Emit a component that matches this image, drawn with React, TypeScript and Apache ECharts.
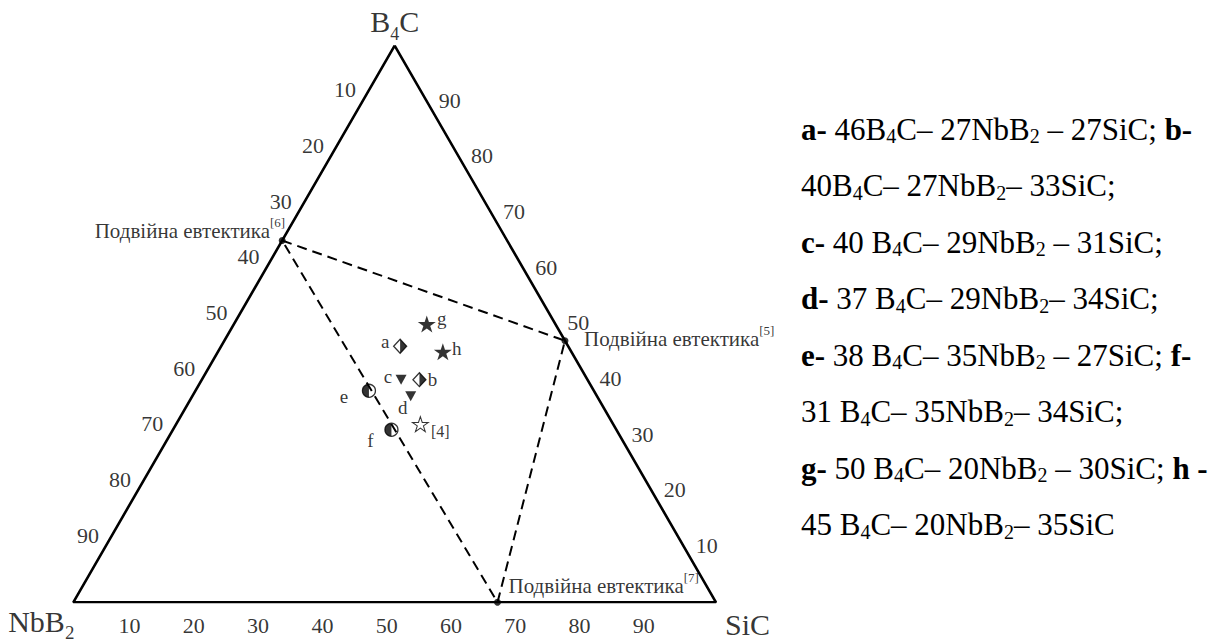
import React, { useEffect, useRef } from "react";
import * as echarts from "echarts";

const FONT = "Liberation Serif";

// Vertices of the ternary diagram (B4C, NbB2, SiC, mol %)
const vertexNames = ["B4C", "NbB2", "SiC"];
const vertexB4C = [100, 0, 0];
const vertexNbB2 = [0, 100, 0];
const vertexSiC = [0, 0, 100];

// Tick labels along the three edges
const tickValues = [10, 20, 30, 40, 50, 60, 70, 80, 90];

// Studied compositions
const sampleNames = ["a", "b", "c", "d", "e", "f", "g", "h"];
const sampleB4C = [46, 40, 40, 37, 38, 31, 50, 45];
const sampleNbB2 = [27, 27, 29, 29, 35, 35, 20, 20];
const sampleSiC = [27, 33, 31, 34, 27, 34, 30, 35];

// Literature composition [4]
const litNames = ["[4]"];
const litB4C = [32];
const litNbB2 = [30];
const litSiC = [38];

// Binary eutectics
const eutecticRefs = ["[6]", "[5]", "[7]"];
const eutecticB4C = [65, 47, 0];
const eutecticNbB2 = [35, 0, 34];
const eutecticSiC = [0, 53, 66];
const eutecticText = "Подвійна евтектика";

// ---- styling (kept apart from data) ----
const STAR =
  "path://M0,-1L0.2245,-0.309L0.951,-0.309L0.363,0.118L0.588,0.809L0,0.382L-0.588,0.809L-0.363,0.118L-0.951,-0.309L-0.2245,-0.309Z";
const HALF_DIAMOND_RIGHT = "path://M0,0L1,1L0,2Z";
const HALF_DISC_LEFT = "path://M1,0C0.448,0 0,0.448 0,1C0,1.552 0.448,2 1,2Z";
const DOWN_TRIANGLE = "path://M-1,-1L1,-1L0,1Z";

const sampleKind: Record<string, string> = {
  a: "diamond", b: "diamond", c: "triangle", d: "triangle",
  e: "circle", f: "circle", g: "star", h: "star",
};
const sampleLabelOffset: Record<string, number[]> = {
  a: [-15, -5], b: [13, 0], c: [-13, -3], d: [-8, 11],
  e: [-25, 6], f: [-21, 11], g: [15, -6], h: [14, -3.5],
};
const litLabelOffset = [[20, 7.5]];
const eutecticLabelPos = [
  { align: "right", offset: [3, -9.8] },
  { align: "left", offset: [19, -2.1] },
  { align: "left", offset: [11, -16.1] },
];

function toXY(b4c: number, nbb2: number, sic: number) {
  const s = b4c + nbb2 + sic;
  const b = (b4c / s) * 100;
  const c = (sic / s) * 100;
  return [c + b / 2, b];
}

const comp = (i: number, gapB: boolean, gapDash: boolean) =>
  `{m|${sampleB4C[i]}${gapB ? " " : ""}B}{s|4}{m|C– ${sampleNbB2[i]}NbB}{s|2}{m|${gapDash ? " " : ""}– ${sampleSiC[i]}SiC}`;

const legendLines = [
  `{b|${sampleNames[0]}-}{m| }` + comp(0, false, true) + `{m|; }{b|${sampleNames[1]}-}`,
  comp(1, false, false) + `{m|;}`,
  `{b|${sampleNames[2]}-}{m| }` + comp(2, true, true) + `{m|;}`,
  `{b|${sampleNames[3]}-}{m| }` + comp(3, true, false) + `{m|;}`,
  `{b|${sampleNames[4]}-}{m| }` + comp(4, true, true) + `{m|; }{b|${sampleNames[5]}-}`,
  comp(5, true, false) + `{m|;}`,
  `{b|${sampleNames[6]}-}{m| }` + comp(6, true, true) + `{m|; }{b|${sampleNames[7]} -}`,
  comp(7, true, false),
];

export default function App() {
  const ref = useRef<HTMLDivElement>(null);

  useEffect(() => {
    if (!ref.current) return;
    const chart = echarts.init(ref.current, undefined, { renderer: "svg" });

    const verts = vertexNames.map((n, i) => toXY(vertexB4C[i], vertexNbB2[i], vertexSiC[i]));
    const outline = [verts[0], verts[1], verts[2], verts[0]];

    const eut = eutecticRefs.map((r, i) => toXY(eutecticB4C[i], eutecticNbB2[i], eutecticSiC[i]));
    const tie = [eut[0], eut[1], eut[2], eut[0]];

    const labelBase = {
      show: true,
      position: "inside",
      align: "center",
      verticalAlign: "middle",
      fontFamily: FONT,
      fontSize: 19,
      color: "#000",
    };

    const sampleItems = (kind: string, withLabel: boolean) =>
      sampleNames
        .map((n, i) => ({ n, i }))
        .filter((o) => sampleKind[o.n] === kind)
        .map(({ n, i }) => ({
          name: n,
          value: toXY(sampleB4C[i], sampleNbB2[i], sampleSiC[i]),
          label: withLabel
            ? { ...labelBase, formatter: n, offset: sampleLabelOffset[n] }
            : { show: false },
        }));

    const tickSeries = (pts: number[][], offset: number[]) => ({
      type: "scatter",
      silent: true,
      clip: false,
      symbolSize: 0,
      itemStyle: { color: "transparent" },
      data: pts.map((p, k) => ({ name: String(tickValues[k]), value: p })),
      label: {
        show: true,
        position: "inside",
        formatter: "{b}",
        offset,
        align: "center",
        verticalAlign: "middle",
        fontFamily: FONT,
        fontSize: 22,
        color: "#000",
      },
      z: 5,
    });

    const vRich = {
      m: { fontFamily: FONT, fontSize: 30, color: "#000", lineHeight: 36 },
      s4: { fontFamily: FONT, fontSize: 18, color: "#000", lineHeight: 36, padding: [24, 0, 0, 0] },
      s2: { fontFamily: FONT, fontSize: 19, color: "#000", lineHeight: 36, padding: [22, 0, 0, 0] },
    };
    const vertexText = ["{m|B}{s4|4}{m|C}", "{m|NbB}{s2|2}", "{m|SiC}"];
    const vertexOffset = [[0, -24], [-32, 19], [31.5, 22]];

    const option: any = {
      animation: false,
      backgroundColor: "#fff",
      title: {
        text: legendLines.join("\n"),
        left: 801,
        top: 100.75,
        padding: 0,
        textStyle: {
          fontFamily: FONT,
          fontSize: 31,
          fontWeight: "normal",
          color: "#000",
          lineHeight: 56.5,
          rich: {
            m: { fontFamily: FONT, fontSize: 31, fontWeight: "normal", color: "#000", lineHeight: 56.5 },
            b: { fontFamily: FONT, fontSize: 31, fontWeight: "bold", color: "#000", lineHeight: 56.5 },
            s: { fontFamily: FONT, fontSize: 20, fontWeight: "normal", color: "#000", lineHeight: 56.5, padding: [14.6, 0, 0, 0] },
          },
        },
      },
      grid: { left: 73.3, top: 45.7, width: 642.7, height: 556.6 },
      xAxis: { type: "value", min: 0, max: 100, show: false },
      yAxis: { type: "value", min: 0, max: 100, show: false },
      series: [
        {
          type: "line",
          silent: true,
          symbol: "none",
          data: outline,
          lineStyle: { color: "#000", width: 2.6 },
          z: 3,
        },
        {
          type: "line",
          silent: true,
          symbol: "none",
          data: tie,
          lineStyle: { color: "#000", width: 2, type: [10, 6] },
          z: 3,
        },
        {
          type: "scatter",
          silent: true,
          clip: false,
          symbol: "circle",
          symbolSize: 7,
          itemStyle: { color: "#000" },
          data: eutecticRefs.map((r, i) => ({
            name: r,
            value: eut[i],
            label: {
              show: true,
              position: "inside",
              verticalAlign: "middle",
              align: eutecticLabelPos[i].align,
              offset: eutecticLabelPos[i].offset,
              formatter: `{t|${eutecticText}}{r|${r}}`,
              rich: {
                t: { fontFamily: FONT, fontSize: 21, color: "#000", lineHeight: 26 },
                r: { fontFamily: FONT, fontSize: 13, color: "#000", lineHeight: 26, padding: [0, 0, 17, 0] },
              },
            },
          })),
          z: 6,
        },
        tickSeries(tickValues.map((v) => toXY(0, 100 - v, v)), [-8, 23]),
        tickSeries(tickValues.map((v) => toXY(100 - v, v, 0)), [-17.5, -11.4]),
        tickSeries(tickValues.map((v) => toXY(v, 0, 100 - v)), [23, -1.3]),
        {
          type: "scatter",
          silent: true,
          clip: false,
          symbolSize: 0,
          itemStyle: { color: "transparent" },
          data: vertexNames.map((n, i) => ({
            name: n,
            value: verts[i],
            label: {
              show: true,
              position: "inside",
              align: "center",
              verticalAlign: "middle",
              offset: vertexOffset[i],
              formatter: vertexText[i],
              rich: vRich,
            },
          })),
          z: 6,
        },
        // stars g, h
        {
          type: "scatter",
          silent: true,
          symbol: STAR,
          symbolSize: [18, 17],
          itemStyle: { color: "#000" },
          data: sampleItems("star", true),
          z: 7,
        },
        // triangles c, d
        {
          type: "scatter",
          silent: true,
          symbol: DOWN_TRIANGLE,
          symbolSize: [11, 10],
          itemStyle: { color: "#000" },
          data: sampleItems("triangle", true),
          z: 7,
        },
        // diamonds a, b (left half open, right half black)
        {
          type: "scatter",
          silent: true,
          symbol: "diamond",
          symbolSize: [13, 14],
          symbolOffset: [5.5, 0],
          itemStyle: { color: "#fff", borderColor: "#000", borderWidth: 1.3 },
          data: sampleItems("diamond", true),
          z: 7,
        },
        {
          type: "scatter",
          silent: true,
          symbol: HALF_DIAMOND_RIGHT,
          symbolSize: [6.5, 14],
          symbolOffset: [8.75, 0],
          itemStyle: { color: "#000" },
          data: sampleItems("diamond", false),
          z: 8,
        },
        // circles e, f (left half black)
        {
          type: "scatter",
          silent: true,
          symbol: "circle",
          symbolSize: 13,
          itemStyle: { color: "rgba(0,0,0,0)", borderColor: "#000", borderWidth: 1.3 },
          data: sampleItems("circle", true),
          z: 7,
        },
        {
          type: "scatter",
          silent: true,
          symbol: HALF_DISC_LEFT,
          symbolSize: [6.5, 13],
          symbolOffset: [-3.25, 0],
          itemStyle: { color: "#000" },
          data: sampleItems("circle", false),
          z: 8,
        },
        // literature point [4] (open star)
        {
          type: "scatter",
          silent: true,
          symbol: STAR,
          symbolSize: [16, 15],
          itemStyle: { color: "#fff", borderColor: "#000", borderWidth: 1 },
          data: litNames.map((n, i) => ({
            name: n,
            value: toXY(litB4C[i], litNbB2[i], litSiC[i]),
            label: { ...labelBase, fontSize: 16, formatter: n, offset: litLabelOffset[i] },
          })),
          z: 7,
        },
      ],
    };

    chart.setOption(option);
    return () => chart.dispose();
  }, []);

  return (
    <div
      ref={ref}
      style={{ position: "absolute", left: 0, top: 0, width: 1230, height: 644, background: "#fff" }}
    />
  );
}
